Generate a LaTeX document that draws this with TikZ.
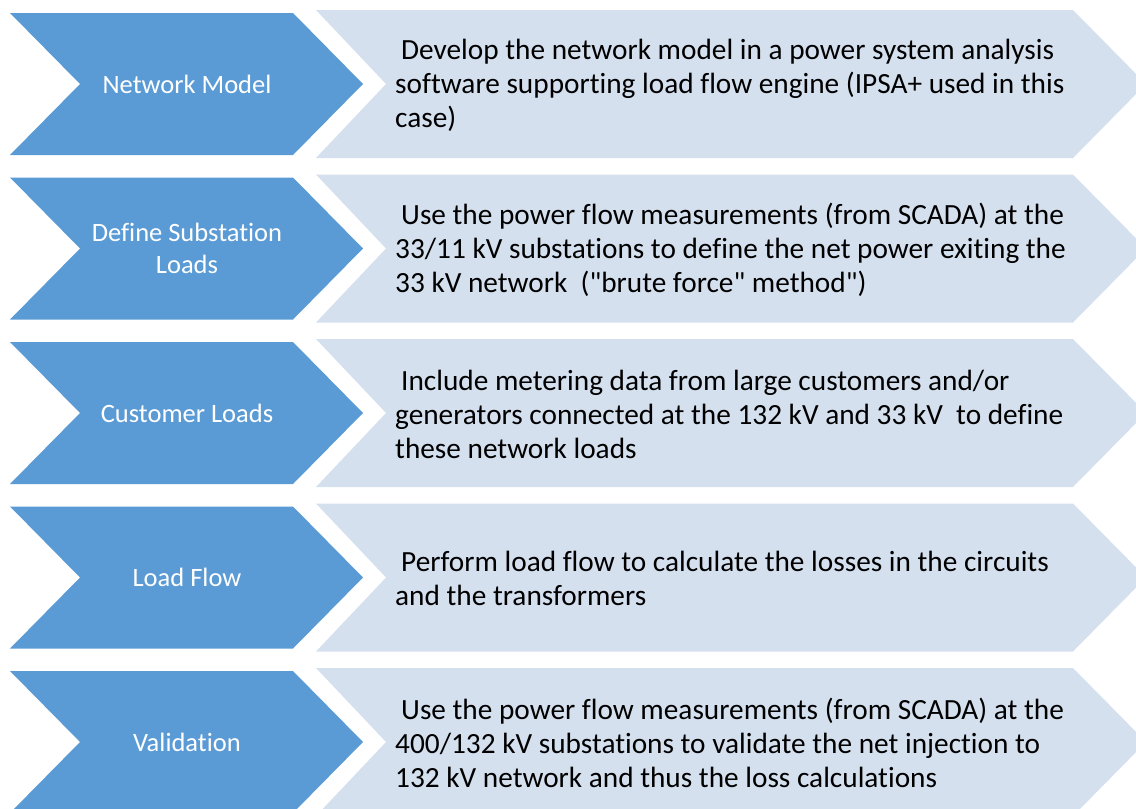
\documentclass[tikz,border=0pt]{standalone}
\usepackage{fontspec}
\setmainfont[RawFeature=-liga]{Carlito}
\definecolor{chevblue}{HTML}{5B9BD5}
\definecolor{panel}{HTML}{D5E0EF}
\begin{document}
\begin{tikzpicture}[x=1pt,y=-1pt,
  steplabel/.style={text=white,align=center,font=\fontsize{26.5}{32}\selectfont,inner sep=0pt},
  desc/.style={text=black,align=left,anchor=west,font=\fontsize{29.3}{34}\selectfont,inner sep=0pt}]
\useasboundingbox (0,0) rectangle (1136,809);
\begin{scope}
\clip (0,0) rectangle (1136,809);
\foreach \T in {13,177.5,342,506.5,671}{
  \fill[panel] (316,\T-3) -- (1073,\T-3) -- (1146,\T+71) -- (1073,\T+145) -- (316,\T+145) -- (386,\T+71) -- cycle;
  \fill[chevblue] (10,\T) -- (293,\T) -- (363,\T+71) -- (293,\T+142) -- (10,\T+142) -- (80,\T+71) -- cycle;
}
\end{scope}
\node[steplabel] (s1) at (187,84) {Network Model};
\node[steplabel] (s2) at (187,248.5) {Define Substation\\Loads};
\node[steplabel] (s3) at (187,413) {Customer Loads};
\node[steplabel] (s4) at (187,577.5) {Load Flow};
\node[steplabel] (s5) at (187,742) {Validation};
\node[desc] (d1) at (395,85) {\hspace*{6pt}Develop the network model in a power system analysis\\software supporting load flow engine (IPSA+ used in this\\case)};
\node[desc] (d2) at (395,249.5) {\hspace*{6pt}Use the power flow measurements (from SCADA) at the\\33/11 kV substations to define the net power exiting the\\33 kV network\ \ (\textquotedbl brute force\textquotedbl{} method\textquotedbl)};
\node[desc] (d3) at (395,414) {\hspace*{6pt}Include metering data from large customers and/or\\generators connected at the 132 kV and 33 kV\ \ to define\\these network loads};
\node[desc] (d4) at (395,578.5) {\hspace*{6pt}Perform load flow to calculate the losses in the circuits\\and the transformers};
\node[desc] (d5) at (395,743) {\hspace*{6pt}Use the power flow measurements (from SCADA) at the\\400/132 kV substations to validate the net injection to\\132 kV network and thus the loss calculations};
\end{tikzpicture}
\end{document}
